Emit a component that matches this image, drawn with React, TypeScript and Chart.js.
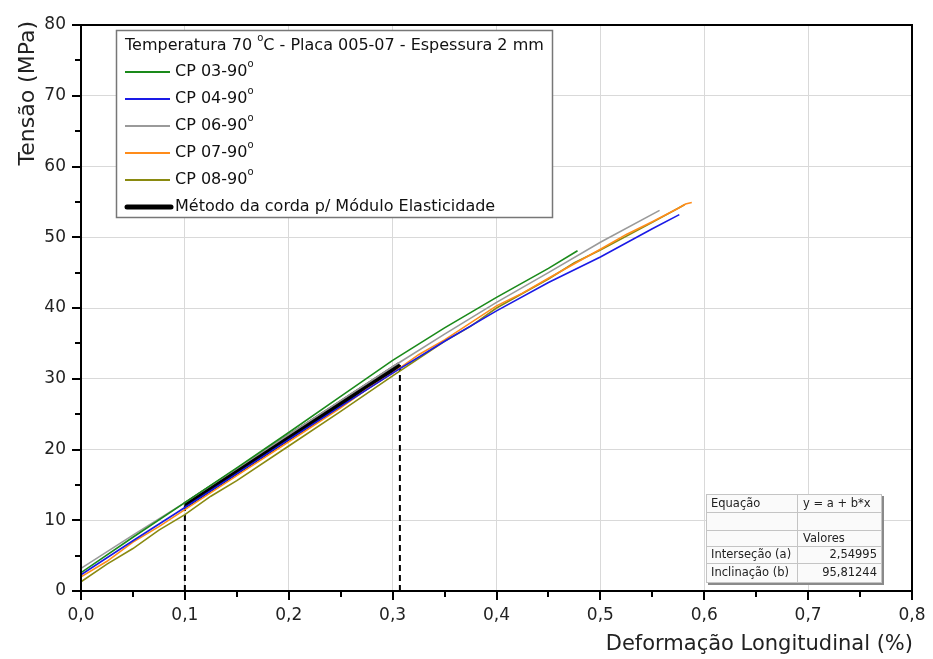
import React, { useEffect, useRef } from "react";
import { Chart, registerables } from "chart.js";
Chart.register(...registerables);

// ---- Data ----
const cp03X = [0, 0.05, 0.1, 0.15, 0.2, 0.25, 0.3, 0.35, 0.4, 0.45, 0.478];
const cp03Y = [2.6, 7.6, 12.5, 17.4, 22.4, 27.5, 32.6, 37.2, 41.5, 45.6, 48.1];

const cp04X = [0, 0.05, 0.1, 0.15, 0.2, 0.25, 0.3, 0.35, 0.4, 0.45, 0.5, 0.55, 0.576];
const cp04Y = [2.3, 7.1, 11.8, 16.6, 21.4, 26.1, 30.8, 35.3, 39.6, 43.6, 47.2, 51.2, 53.2];

const cp06X = [0, 0.05, 0.1, 0.15, 0.2, 0.25, 0.3, 0.35, 0.4, 0.45, 0.5, 0.557];
const cp06Y = [3.2, 7.9, 12.5, 17.3, 22.1, 26.9, 31.7, 36.3, 40.8, 45.0, 49.3, 53.8];

const cp07X = [0, 0.025, 0.05, 0.075, 0.1, 0.15, 0.2, 0.25, 0.275, 0.3, 0.325, 0.35, 0.4, 0.425, 0.45, 0.5, 0.525, 0.55, 0.575, 0.582, 0.588];
const cp07Y = [2.0, 4.2, 6.9, 9.1, 11.5, 16.3, 21.1, 25.9, 28.5, 30.8, 33.4, 35.5, 40.3, 42.1, 44.2, 48.3, 50.4, 52.2, 54.1, 54.7, 54.9];

const cp08X = [0, 0.025, 0.05, 0.075, 0.1, 0.125, 0.15, 0.2, 0.25, 0.3, 0.35, 0.375, 0.4, 0.45, 0.475, 0.5, 0.55, 0.581];
const cp08Y = [1.3, 3.8, 6.0, 8.6, 10.8, 13.4, 15.6, 20.5, 25.4, 30.4, 35.3, 37.4, 40.0, 44.1, 46.4, 48.2, 52.1, 54.6];

const chordX = [0.1, 0.307];
const chordY = [12.13, 31.96];

const seriesNames = ["CP 03-90", "CP 04-90", "CP 06-90", "CP 07-90", "CP 08-90"];
const seriesColors = ["#1a8a1a", "#1a1ae6", "#9a9a9a", "#ff8c1a", "#8a8a10"];
const chordName = "Método da corda p/ Módulo Elasticidade";
const legendTitle = ["Temperatura 70 ", "o", "C - Placa 005-07 - Espessura 2 mm"];

const xTickValues = [0, 0.1, 0.2, 0.3, 0.4, 0.5, 0.6, 0.7, 0.8];
const yTickValues = [0, 10, 20, 30, 40, 50, 60, 70, 80];
const xTitle = "Deformação Longitudinal (%)";
const yTitle = "Tensão (MPa)";

const tableRows = [
  ["Equação", "y = a + b*x"],
  ["", ""],
  ["", "Valores"],
  ["Interseção (a)", "2,54995"],
  ["Inclinação (b)", "95,81244"],
];

const FONT = "'DejaVu Sans', Verdana, sans-serif";

const toPts = (xs: number[], ys: number[]) => xs.map((x, i) => ({ x, y: ys[i] }));

const overlay = {
  id: "overlay",
  afterDraw(chart: any) {
    const ctx = chart.ctx as CanvasRenderingContext2D;
    const { left, right, top, bottom } = chart.chartArea;
    const xs = chart.scales.x;
    const ys = chart.scales.y;
    ctx.save();

    // frame
    ctx.strokeStyle = "#000";
    ctx.lineWidth = 2;
    ctx.strokeRect(left, top, right - left, bottom - top);

    // ticks
    ctx.lineWidth = 2;
    for (let v = 0; v <= 80.001; v += 5) {
      const y = Math.round(ys.getPixelForValue(v));
      const len = Math.round(v) % 10 === 0 ? 9 : 6;
      ctx.beginPath();
      ctx.moveTo(left - len, y);
      ctx.lineTo(left, y);
      ctx.stroke();
    }
    for (let i = 0; i <= 16; i++) {
      const v = i * 0.05;
      const x = Math.round(xs.getPixelForValue(v));
      const len = i % 2 === 0 ? 9 : 6;
      ctx.beginPath();
      ctx.moveTo(x, bottom);
      ctx.lineTo(x, bottom + len);
      ctx.stroke();
    }

    // axis titles
    ctx.fillStyle = "#222";
    ctx.font = `21px ${FONT}`;
    ctx.textBaseline = "middle";
    ctx.textAlign = "right";
    ctx.fillText(xTitle, right + 1, 645);
    ctx.save();
    ctx.font = `22px ${FONT}`;
    ctx.translate(28, top - 4);
    ctx.rotate(-Math.PI / 2);
    ctx.textAlign = "right";
    ctx.fillText(yTitle, 0, 0);
    ctx.restore();

    // legend box
    const lx = 116, ly = 30, lw = 436, lh = 187;
    ctx.fillStyle = "#fff";
    ctx.fillRect(lx, ly, lw, lh);
    ctx.strokeStyle = "#777";
    ctx.lineWidth = 1.5;
    ctx.strokeRect(lx + 0.5, ly + 0.5, lw, lh);

    ctx.fillStyle = "#111";
    ctx.textAlign = "left";
    ctx.textBaseline = "middle";
    const drawSup = (parts: string[], x: number, y: number) => {
      ctx.font = `16px ${FONT}`;
      ctx.fillText(parts[0], x, y);
      let cx = x + ctx.measureText(parts[0]).width;
      ctx.font = `10px ${FONT}`;
      ctx.fillText(parts[1], cx, y - 8);
      cx += ctx.measureText(parts[1]).width;
      if (parts[2]) {
        ctx.font = `16px ${FONT}`;
        ctx.fillText(parts[2], cx, y);
      }
    };
    drawSup(legendTitle, 125, 46);
    const rowY = [72, 99, 126, 153, 180];
    seriesNames.forEach((n, i) => {
      ctx.strokeStyle = seriesColors[i];
      ctx.lineWidth = 2;
      ctx.beginPath();
      ctx.moveTo(125, rowY[i]);
      ctx.lineTo(170, rowY[i]);
      ctx.stroke();
      ctx.fillStyle = "#111";
      drawSup([n, "o", ""], 175, rowY[i]);
    });
    ctx.strokeStyle = "#000";
    ctx.lineWidth = 5;
    ctx.lineCap = "round";
    ctx.beginPath();
    ctx.moveTo(127, 207);
    ctx.lineTo(171, 207);
    ctx.stroke();
    ctx.lineCap = "butt";
    ctx.font = `16px ${FONT}`;
    ctx.fillStyle = "#111";
    ctx.fillText(chordName, 175, 207);

    // table
    const tx = 706, ty = 494, tw = 176, th = 89, colX = 797;
    const rowH = [18, 18, 16, 17, 18];
    ctx.fillStyle = "#8a8a8a";
    ctx.fillRect(tx + 2, ty + 2, tw, th);
    ctx.fillStyle = "#fafafa";
    ctx.fillRect(tx, ty, tw, th);
    ctx.strokeStyle = "#c4c4c4";
    ctx.lineWidth = 1;
    ctx.strokeRect(tx + 0.5, ty + 0.5, tw - 1, th - 1);
    ctx.beginPath();
    ctx.moveTo(colX + 0.5, ty);
    ctx.lineTo(colX + 0.5, ty + th);
    let yy = ty;
    for (let i = 0; i < rowH.length - 1; i++) {
      yy += rowH[i];
      ctx.moveTo(tx, yy + 0.5);
      ctx.lineTo(tx + tw, yy + 0.5);
    }
    ctx.stroke();
    ctx.font = `11.5px ${FONT}`;
    ctx.fillStyle = "#222";
    yy = ty;
    tableRows.forEach((r, i) => {
      const cy = yy + rowH[i] / 2 + 1;
      ctx.textAlign = "left";
      ctx.fillText(r[0], tx + 5, cy);
      if (i >= 3) {
        ctx.textAlign = "right";
        ctx.fillText(r[1], tx + tw - 5, cy);
      } else {
        ctx.textAlign = "left";
        ctx.fillText(r[1], colX + 6, cy);
      }
      yy += rowH[i];
    });

    ctx.restore();
  },
};

export default function App() {
  const ref = useRef<HTMLCanvasElement | null>(null);
  useEffect(() => {
    if (!ref.current) return;
    const lineSets = [
      [cp03X, cp03Y],
      [cp04X, cp04Y],
      [cp06X, cp06Y],
      [cp07X, cp07Y],
      [cp08X, cp08Y],
    ].map(([xs, ys], i) => ({
      label: seriesNames[i],
      data: toPts(xs, ys),
      borderColor: seriesColors[i],
      backgroundColor: seriesColors[i],
      borderWidth: 1.6,
      showLine: true,
      pointRadius: 0,
      tension: 0,
    }));
    const chart = new Chart(ref.current, {
      type: "scatter",
      data: {
        datasets: [
          ...lineSets,
          {
            label: chordName,
            data: toPts(chordX, chordY),
            borderColor: "#000",
            backgroundColor: "#000",
            borderWidth: 6,
            showLine: true,
            pointRadius: 0,
          },
          {
            label: "d1",
            data: [
              { x: chordX[0], y: 0 },
              { x: chordX[0], y: chordY[0] },
            ],
            borderColor: "#000",
            borderWidth: 2,
            borderDash: [6, 4],
            showLine: true,
            pointRadius: 0,
          },
          {
            label: "d2",
            data: [
              { x: chordX[1], y: 0 },
              { x: chordX[1], y: chordY[1] },
            ],
            borderColor: "#000",
            borderWidth: 2,
            borderDash: [6, 4],
            showLine: true,
            pointRadius: 0,
          },
        ] as any,
      },
      options: {
        animation: false,
        responsive: false,
        layout: { padding: { top: 25, right: 21, left: 0, bottom: 0 } },
        plugins: { legend: { display: false }, tooltip: { enabled: false } },
        scales: {
          x: {
            type: "linear",
            min: 0,
            max: 0.8,
            afterBuildTicks: (s: any) => {
              s.ticks = xTickValues.map((v) => ({ value: v }));
            },
            afterFit: (s: any) => {
              s.height = 68;
              s.paddingLeft = 0;
              s.paddingRight = 0;
            },
            ticks: {
              callback: (v: any) => Number(v).toFixed(1).replace(".", ","),
              font: { size: 17, family: FONT },
              color: "#222",
              padding: 14,
              maxRotation: 0,
            },
            grid: { color: "#d9d9d9", drawTicks: false, lineWidth: 1 },
            border: { display: false },
          },
          y: {
            type: "linear",
            min: 0,
            max: 80,
            afterBuildTicks: (s: any) => {
              s.ticks = yTickValues.map((v) => ({ value: v }));
            },
            afterFit: (s: any) => {
              s.width = 81;
              s.paddingTop = 0;
              s.paddingBottom = 0;
            },
            ticks: {
              font: { size: 17, family: FONT },
              color: "#222",
              padding: 15,
            },
            grid: { color: "#d9d9d9", drawTicks: false, lineWidth: 1 },
            border: { display: false },
          },
        },
      },
      plugins: [overlay],
    } as any);
    return () => chart.destroy();
  }, []);
  return (
    <div style={{ position: "absolute", left: 0, top: 0, width: 933, height: 659, background: "#fff" }}>
      <canvas ref={ref} width={933} height={659} />
    </div>
  );
}
